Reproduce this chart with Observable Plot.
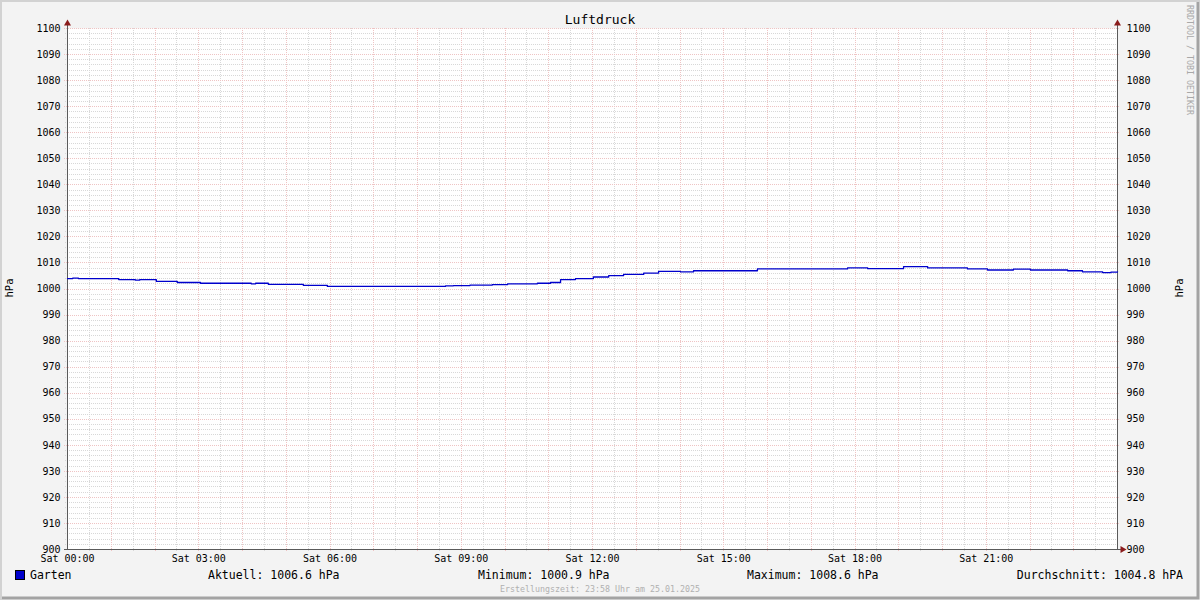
<!DOCTYPE html>
<html><head><meta charset="utf-8">
<script src="https://cdn.jsdelivr.net/npm/d3@7"></script>
<script src="https://cdn.jsdelivr.net/npm/@observablehq/plot@0.6"></script>
<style>html,body{margin:0;padding:0;background:#f3f3f3}</style>
</head><body><div id="chart"></div>
<script>
// ---- data ----
const hours    = [0.0, 0.12, 0.25, 1.17, 1.55, 1.65, 2.03, 2.51, 3.04, 4.2, 4.3, 4.59, 5.39, 5.94, 8.64, 8.82, 9.2, 9.71, 10.06, 10.74, 11.04, 11.27, 11.61, 12.02, 12.37, 12.71, 13.17, 13.51, 14.01, 14.31, 15.77, 17.83, 18.29, 19.11, 19.66, 20.57, 21.03, 21.62, 22.01, 22.86, 23.2, 23.66, 23.85, 24.0];
const pressure = [1004.0, 1004.2, 1004.0, 1003.6, 1003.4, 1003.6, 1002.9, 1002.5, 1002.2, 1002.0, 1002.2, 1001.8, 1001.4, 1001.0, 1001.2, 1001.3, 1001.5, 1001.7, 1002.0, 1002.2, 1002.5, 1003.6, 1004.0, 1004.6, 1005.1, 1005.6, 1006.1, 1006.8, 1006.6, 1007.0, 1007.7, 1008.1, 1007.8, 1008.6, 1008.1, 1007.7, 1007.3, 1007.6, 1007.3, 1007.0, 1006.6, 1006.3, 1006.5, 1006.6];

const title = "Luftdruck";
const unit = "hPa";
const seriesName = "Garten";
const xLabelHours = [0, 3, 6, 9, 12, 15, 18, 21];
const xLabelText = ["Sat 00:00", "Sat 03:00", "Sat 06:00", "Sat 09:00", "Sat 12:00", "Sat 15:00", "Sat 18:00", "Sat 21:00"];
const yTicks = [900, 910, 920, 930, 940, 950, 960, 970, 980, 990, 1000, 1010, 1020, 1030, 1040, 1050, 1060, 1070, 1080, 1090, 1100];
const legendStats = ["Aktuell: 1006.6 hPa", "Minimum: 1000.9 hPa", "Maximum: 1008.6 hPa", "Durchschnitt: 1004.8 hPA"];
const footer = "Erstellungszeit: 23:58 Uhr am 25.01.2025";
const watermark = "RRDTOOL / TOBI OETIKER";

// grid positions
const yMinor = d3.range(902, 1100, 2).filter(v => v % 10 !== 0);
const xMajor = d3.range(1, 24, 1);
const xMinor = d3.range(0.5, 24, 1);

const data = hours.map((h, i) => ({h, v: pressure[i]}));
const labels = xLabelHours.map((h, i) => ({h, t: xLabelText[i]}));

const majorC = "#efc4c4", minorC = "#d8d8d8", axisC = "#5a5a5a", arrowC = "#8b1c1c";
const crisp = {shapeRendering: "crispEdges", strokeDasharray: "1,1"};

const plot = Plot.plot({
  width: 1200, height: 600,
  marginLeft: 67, marginRight: 83, marginTop: 28, marginBottom: 51,
  style: {background: "#f3f3f3", fontFamily: "DejaVu Sans Mono", fontSize: "10px", color: "#000"},
  x: {domain: [0, 24], axis: null},
  y: {domain: [900, 1100], axis: null},
  marks: [
    Plot.frame({fill: "#ffffff", stroke: "none"}),
    Plot.ruleY(yMinor, {...crisp, stroke: minorC, insetLeft: -2, insetRight: -2}),
    Plot.ruleX(xMinor, {...crisp, stroke: minorC, insetBottom: -2}),
    Plot.ruleY(yTicks, {...crisp, stroke: majorC, insetLeft: -3, insetRight: -3}),
    Plot.ruleX(xMajor, {...crisp, stroke: majorC, insetBottom: -3}),
    Plot.ruleX([0, 24], {stroke: axisC, insetTop: -5, shapeRendering: "crispEdges"}),
    Plot.ruleY([900], {stroke: axisC, insetLeft: -3, insetRight: -5, shapeRendering: "crispEdges"}),
    Plot.dot([{h: 0}, {h: 24}], {x: "h", y: () => 1100, dy: -5, symbol: "triangle", r: 2.6, fill: arrowC, stroke: "none"}),
    Plot.dot([{h: 24}], {x: "h", y: () => 900, dx: 5, symbol: "triangle", r: 2.6, fill: arrowC, stroke: "none", rotate: 90}),
    Plot.line(data, {x: "h", y: "v", curve: "step-after", stroke: "#0000cc", strokeWidth: 1.3}),
    Plot.text(yTicks, {x: () => 0, y: d => d, text: d => String(d), dx: -7, textAnchor: "end"}),
    Plot.text(yTicks, {x: () => 24, y: d => d, text: d => String(d), dx: 9, textAnchor: "start"}),
    Plot.text(labels, {x: "h", y: () => 900, text: "t", dy: 9})
  ]
});

const svg = d3.select(plot);
const T = (x, y, s, size, anchor, fill) => svg.append("text").attr("x", x).attr("y", y)
  .attr("text-anchor", anchor).attr("fill", fill || "#000").style("font-size", size).text(s);
T(600, 24, title, "13px", "middle");
svg.append("text").attr("transform", "translate(13,288) rotate(-90)").attr("text-anchor", "middle")
  .style("font-size", "10.5px").text(unit);
svg.append("text").attr("transform", "translate(1183,288) rotate(-90)").attr("text-anchor", "middle")
  .style("font-size", "10.5px").text(unit);
svg.append("text").attr("transform", "translate(1187,5) rotate(90)").attr("text-anchor", "start")
  .style("font-size", "8.3px").attr("fill", "#a8a8a8").text(watermark);
// legend
svg.append("rect").attr("x", 15.5).attr("y", 570.5).attr("width", 9).attr("height", 9)
  .attr("fill", "#0000cc").attr("stroke", "#000");
T(30, 579, seriesName, "11.5px", "start");
const lx = [208, 478, 747];
legendStats.slice(0, 3).forEach((s, i) => T(lx[i], 579, s, "11.5px", "start"));
T(1183, 579, legendStats[3], "11.5px", "end");
T(600, 592, footer, "8.3px", "middle", "#b0b0b0");
// border (3D shade)
svg.append("path").attr("d", "M1,600 V1 H1200").attr("fill", "none").attr("stroke", "#d2d2d2").attr("stroke-width", 2);
svg.append("path").attr("d", "M2,598 H1198 V2").attr("fill", "none").attr("stroke", "#a3a3a3").attr("stroke-width", 3);

document.getElementById("chart").appendChild(plot);
</script>
</body></html>
